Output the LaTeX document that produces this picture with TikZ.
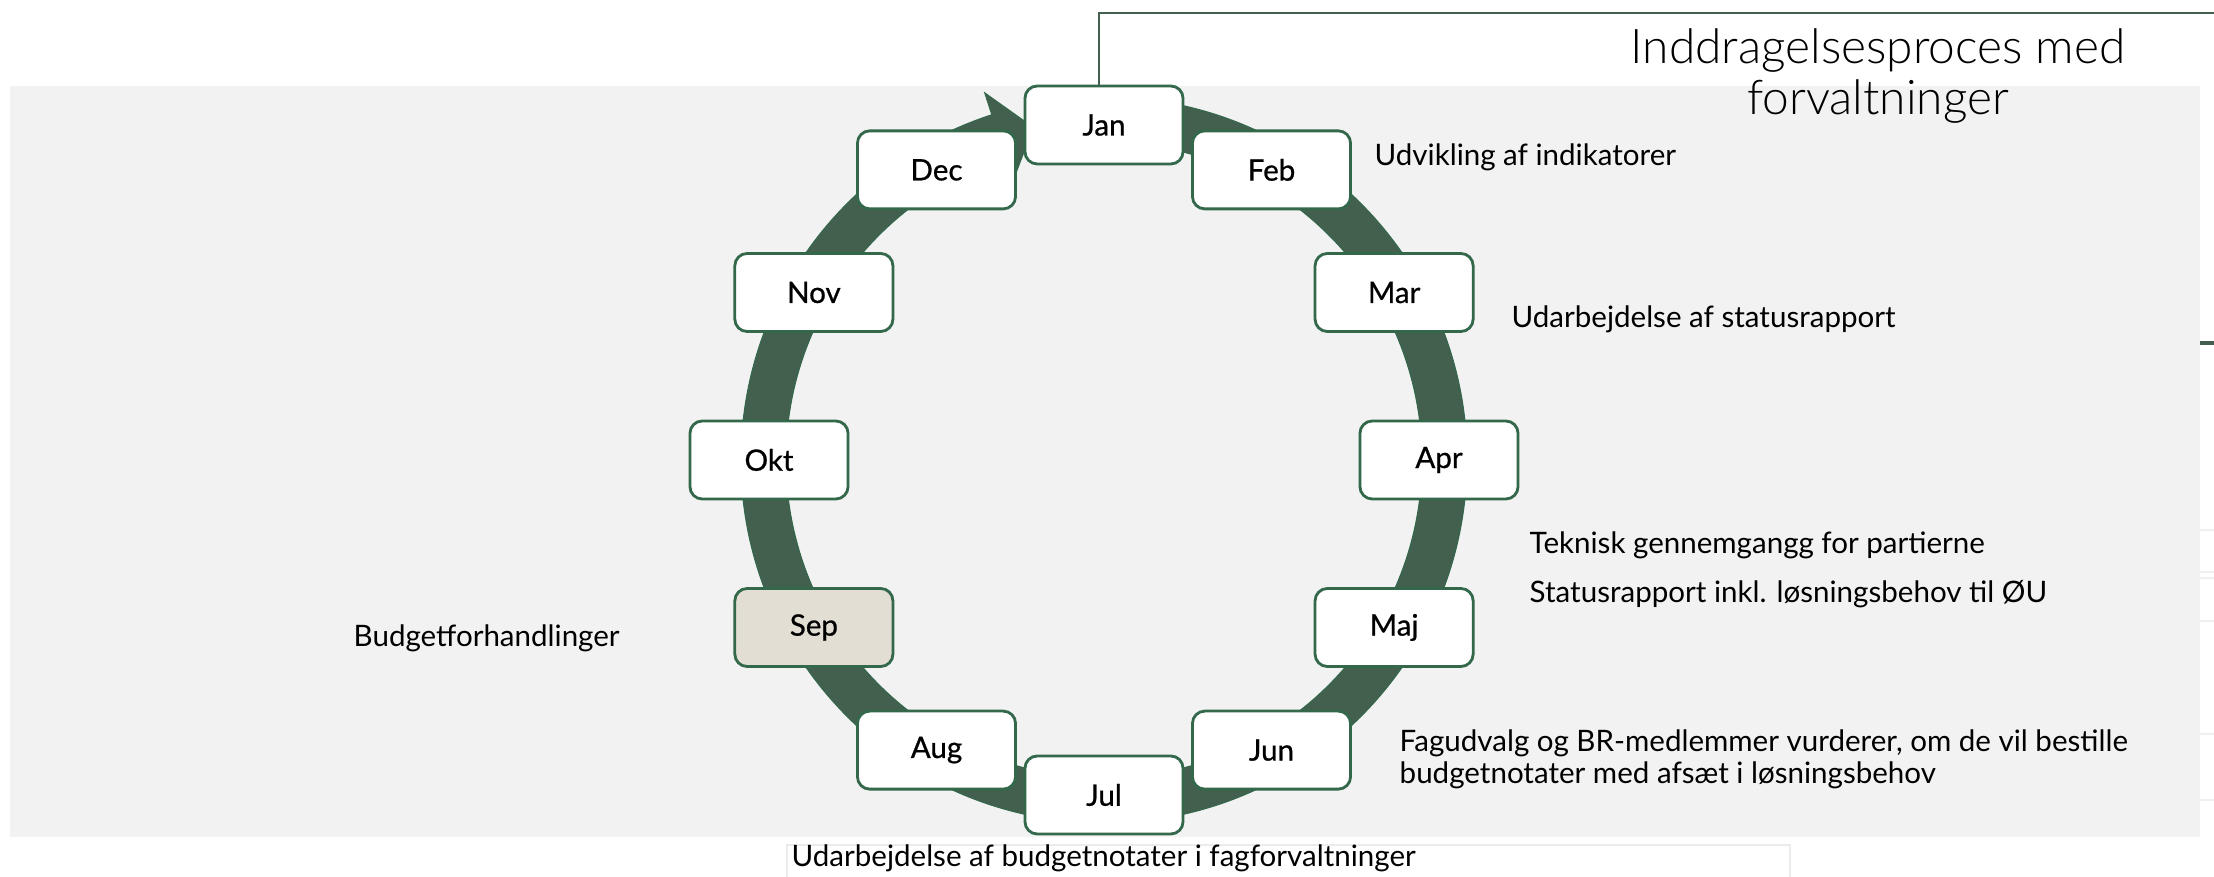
\documentclass[tikz,border=0pt]{standalone}
\usepackage{fontspec}
\setmainfont{Lato}
\newfontfamily\titlefont{Lato Light}
\newfontfamily\monthfont{Lato}[FakeBold=0.7]
\usetikzlibrary{calc,positioning}
\definecolor{ringgreen}{HTML}{43604F}
\definecolor{boxgreen}{HTML}{33684B}
\definecolor{panelgray}{HTML}{F2F2F2}
\definecolor{sepfill}{HTML}{E3DED3}

\begin{document}
\begin{tikzpicture}[x=0.01cm, y=0.01cm,
    month/.style={draw=boxgreen, line width=0.8pt, fill=white, rounded corners=3.5pt, minimum width=1.58cm, minimum height=0.78cm, font=\monthfont\fontsize{8.4}{10}\selectfont},
    note/.style={anchor=west, inner sep=0pt, font=\fontsize{8.4}{9.1}\selectfont},
    ring/.style={fill=ringgreen, draw=boxgreen, line width=0.3pt}
]
\useasboundingbox (0,0) rectangle (2214,-877);
\fill[panelgray] (10,-86) rectangle (2200,-837);
\coordinate (ctr) at (1104,-460);

% year ring, arrow head ends at Jan
\path[ring] ($(ctr)+(85:363)$) arc[start angle=85, end angle=-252, radius=363]
  -- ($(ctr)+(108:386)$) -- ($(ctr)+(102:340)$) -- ($(ctr)+(108:294)$)
  -- ($(ctr)+(108:318)$) arc[start angle=-252, end angle=85, radius=318] -- cycle;

\foreach \m/\a in {Jan/90,Feb/60,Mar/30,Apr/0,Maj/-30,Jun/-60,Jul/-90,Aug/-120,Okt/180,Nov/150,Dec/120}
  \node[month] (\m) at ($(ctr)+(\a:335)$) {\m};
\node[month, fill=sepfill] (Sep) at ($(ctr)+(-150:335)$) {Sep};

% title frame
\coordinate (ttlend) at (2214,-13);
\draw[ringgreen, line width=0.8pt] ([xshift=-1.4pt]Jan.north) |- (ttlend);
\node[align=center, font=\titlefont\fontsize{13.6}{14.6}\selectfont] (ttl) at (1878,-76) {Inddragelsesproces med\\forvaltninger};

\node[note] (udv) at (1374,-157) {Udvikling af indikatorer};
\node[note] (stat) at (1511,-319) {Udarbejdelse af statusrapport};
\node[note] (tek) at (1529,-545) {Teknisk gennemgangg for partierne};
\node[note] (oeu) at (1529,-594) {Statusrapport inkl. løsningsbehov til ØU};
\node[note, align=left] (fag) at (1399,-759) {Fagudvalg og BR-medlemmer vurderer, om de vil bestille\\budgetnotater med afsæt i løsningsbehov};
\node[note] (forh) at (353,-638) {Budgetforhandlinger};

% text frame below the panel
\draw[black!8, line width=0.6pt] (787,-890) rectangle (1790,-845);
\node[note, anchor=base west] (bud) at (791,-867) {Udarbejdelse af budgetnotater i fagforvaltninger};

% edge of the next panel
\draw[ringgreen, line width=1pt] (2200,-343) -- (2214,-343);
\foreach \y in {530,572,578,621,734,800}
  \draw[black!6, line width=0.8pt] (2200,-\y) -- (2214,-\y);
\end{tikzpicture}
\end{document}
